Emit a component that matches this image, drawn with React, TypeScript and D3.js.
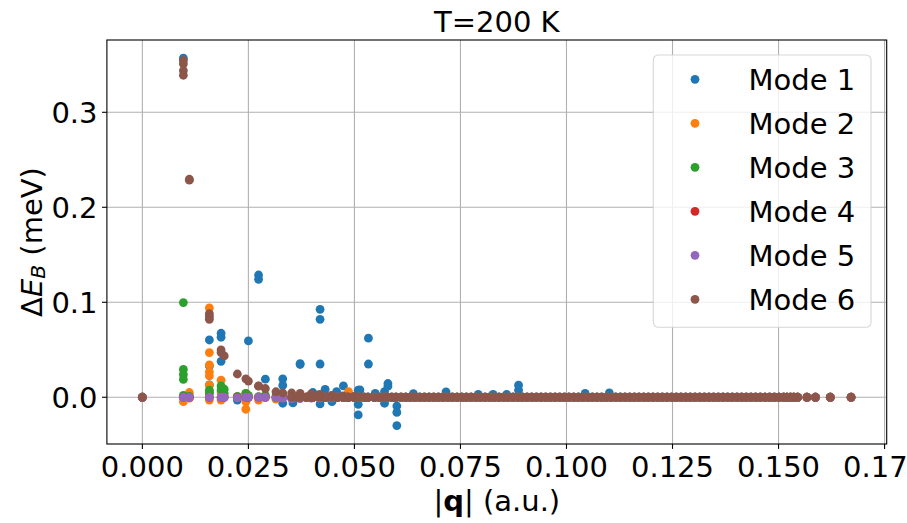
import React from "react";
import * as d3 from "d3";

// ---------- data ----------
const xLimits: [number, number] = [-0.00836, 0.1755];
const yLimits: [number, number] = [-0.0492, 0.3761];
const xTicks = [0, 0.025, 0.05, 0.075, 0.1, 0.125, 0.15, 0.175];
const yTicks = [0, 0.1, 0.2, 0.3];
const modeNames = ["Mode 1", "Mode 2", "Mode 3", "Mode 4", "Mode 5", "Mode 6"];
const modeColors = ["#1f77b4", "#ff7f0e", "#2ca02c", "#d62728", "#9467bd", "#8c564b"];

// |q| values of the dense near-zero band (all modes sit at ~0 there)
const bandQ = [
  0.0352, 0.0366, 0.0372, 0.0387, 0.0398, 0.0402, 0.0418, 0.0429, 0.0432, 0.0446,
  0.0457, 0.046, 0.0473, 0.0483, 0.0486, 0.0499, 0.0508, 0.0511, 0.0523, 0.0532,
  0.0547, 0.0558, 0.0569, 0.0577, 0.0588, 0.0598, 0.061, 0.0621, 0.0632, 0.0643,
  0.0654, 0.0665, 0.0676, 0.0687, 0.0698, 0.0709, 0.072, 0.0731, 0.0742, 0.0753,
  0.0764, 0.0775, 0.0786, 0.0797, 0.0808, 0.0819, 0.083, 0.0841, 0.0852, 0.0863,
  0.0874, 0.0885, 0.0896, 0.0907, 0.0918, 0.0929, 0.094, 0.0951, 0.0962, 0.0973,
  0.0984, 0.0995, 0.1006, 0.1017, 0.1028, 0.1039, 0.105, 0.1061, 0.1072, 0.1083,
  0.1094, 0.1105, 0.1116, 0.1127, 0.1138, 0.1149, 0.116, 0.1171, 0.1182, 0.1193,
  0.1204, 0.1215, 0.1226, 0.1237, 0.1248, 0.1259, 0.127, 0.1281, 0.1292, 0.1303,
  0.1314, 0.1325, 0.1336, 0.1347, 0.1358, 0.1369, 0.138, 0.1391, 0.1402, 0.1413,
  0.1424, 0.1435, 0.1446, 0.1457, 0.1468, 0.1479, 0.149, 0.1501, 0.1512, 0.152,
  0.1528, 0.1536, 0.1545, 0.1567, 0.1587, 0.1622, 0.1671,
];
const bandE = 0;

const mode1: [number, number][] = [
  [0, 0], [0.00967, 0.357], [0.00967, 0.0], [0.01108, 0.0],
  [0.0158, 0.0603], [0.0158, 0.033], [0.0158, 0.013], [0.0158, 0.005],
  [0.01856, 0.0674], [0.01856, 0.0632], [0.01856, 0.0378],
  [0.0224, -0.003], [0.025, 0.0593], [0.0274, 0.1287], [0.0274, 0.1242],
  [0.029, 0.019], [0.0331, 0.0194], [0.0331, 0.0125], [0.0331, -0.0063], [0.0355, -0.006],
  [0.0372, 0.0355], [0.0372, 0.0345], [0.0402, 0.005],
  [0.0419, 0.0926], [0.0419, 0.0821], [0.0419, 0.035], [0.0419, -0.007],
  [0.0431, 0.0084], [0.0447, -0.0046], [0.0458, 0.006], [0.0474, 0.0119],
  [0.0509, 0.0074], [0.0509, -0.0074], [0.0509, -0.0186], [0.0513, 0.0077],
  [0.0533, 0.0622], [0.0533, 0.035], [0.0549, 0.004],
  [0.0571, 0.006], [0.0571, -0.0063], [0.0579, 0.0145], [0.0579, 0.0117],
  [0.06, -0.0092], [0.06, -0.016], [0.06, -0.0298],
  [0.0639, 0.0039], [0.0716, 0.0056], [0.0792, 0.003], [0.0827, 0.003], [0.0859, 0.003],
  [0.0887, 0.0127], [0.0887, 0.0074], [0.1044, 0.004], [0.1101, 0.0046],
];

const mode2: [number, number][] = [
  [0, 0], [0.00967, -0.0046], [0.00967, 0.0005], [0.01108, 0.005], [0.01108, -0.001],
  [0.0158, 0.094], [0.0158, 0.047], [0.0158, 0.034], [0.0158, 0.0267], [0.0158, 0.0224],
  [0.0158, 0.0127], [0.0158, 0.006], [0.0158, -0.003],
  [0.01856, 0.018], [0.01856, 0.0055], [0.01856, -0.003], [0.0193, 0.001],
  [0.0224, 0.0], [0.0244, -0.0126], [0.0244, -0.0046], [0.0244, 0.004], [0.025, 0.0],
  [0.0274, 0.0], [0.0274, -0.003], [0.029, 0.0], [0.0315, -0.002], [0.0331, 0.002],
  [0.0486, 0.006],
];

const mode3: [number, number][] = [
  [0, 0], [0.00967, 0.0997], [0.00967, 0.0294], [0.00967, 0.024], [0.00967, 0.0188],
  [0.00967, 0.002], [0.01108, 0.001], [0.0158, 0.004], [0.0158, 0.0075],
  [0.01856, 0.0119], [0.01856, 0.0077], [0.0193, 0.0085], [0.0193, 0.004],
  [0.0224, 0.001], [0.0244, 0.004], [0.025, 0.002], [0.0274, 0.0007], [0.029, 0.002],
  [0.0315, 0.001],
];

const mode4: [number, number][] = [
  [0, 0], [0.00967, 0.0], [0.01108, 0.0], [0.0158, 0.0], [0.01856, 0.0], [0.0193, 0.0],
  [0.0224, 0.0], [0.0244, 0.0], [0.025, 0.0], [0.0274, 0.0], [0.029, 0.0], [0.0315, 0.0],
  [0.0331, 0.0],
];

const mode5: [number, number][] = [
  [0, 0], [0.00967, 0.0], [0.01108, 0.0], [0.0158, 0.0], [0.01856, 0.0], [0.0193, 0.0],
  [0.0224, -0.0005], [0.0244, 0.0], [0.025, 0.0], [0.0274, 0.0], [0.029, 0.0],
  [0.0315, -0.0005], [0.0331, -0.001], [0.0352, -0.0015], [0.0372, -0.0015],
  [0.0398, -0.001], [0.0418, -0.001], [0.0446, -0.001],
];

const mode6: [number, number][] = [
  [0, 0], [0.00967, 0.3545], [0.00967, 0.351], [0.00967, 0.344], [0.00967, 0.339],
  [0.01108, 0.2295], [0.01108, 0.2285],
  [0.0158, 0.088], [0.0158, 0.085], [0.0158, 0.082],
  [0.01856, 0.0498], [0.01856, 0.047], [0.0193, 0.0435],
  [0.0224, 0.0245], [0.0244, 0.0194], [0.025, 0.017], [0.0274, 0.012], [0.0274, 0.0117],
  [0.029, 0.0092], [0.0315, 0.0058], [0.0331, 0.0045],
  [0.0352, 0.0045], [0.0372, 0.004], [0.0398, 0.0035], [0.0418, 0.003], [0.0446, 0.002],
  [0.0473, 0.0015], [0.0499, 0.001],
];

const modes = [mode1, mode2, mode3, mode4, mode5, mode6];

// ---------- layout ----------
const W = 907;
const H = 523;
const plot = { left: 106.9, right: 886.7, top: 40, bottom: 444 };
const FONT = "DejaVu Sans";
const FS = 29;

export default function App() {
  const x = d3.scaleLinear().domain(xLimits).range([plot.left, plot.right]);
  const y = d3.scaleLinear().domain(yLimits).range([plot.bottom, plot.top]);
  const fmtX = d3.format(".3f");
  const fmtY = d3.format(".1f");
  const r = 4.4;

  const series = modes.map((pts) =>
    pts.concat(bandQ.map((q) => [q, bandE] as [number, number]))
  );

  const legend = { x: 653.3, y: 55, w: 217.7, h: 272.3 };
  const rowY = (i: number) => 79.3 + i * 44;

  return (
    <svg
      width={W}
      height={H}
      style={{ position: "absolute", left: 0, top: 0, background: "#fff" }}
      fontFamily={FONT}
    >
      <defs>
        <clipPath id="plotclip">
          <rect x={plot.left} y={plot.top} width={plot.right - plot.left} height={plot.bottom - plot.top} />
        </clipPath>
      </defs>
      <rect x={0} y={0} width={W} height={H} fill="#fff" />

      {/* grid */}
      {xTicks.map((t) => (
        <line key={"gx" + t} x1={x(t)} x2={x(t)} y1={plot.top} y2={plot.bottom} stroke="#b0b0b0" strokeWidth={1.1} />
      ))}
      {yTicks.map((t) => (
        <line key={"gy" + t} x1={plot.left} x2={plot.right} y1={y(t)} y2={y(t)} stroke="#b0b0b0" strokeWidth={1.1} />
      ))}

      {/* points */}
      <g clipPath="url(#plotclip)">
        {series.map((pts, mi) => (
          <g key={"s" + mi} fill={modeColors[mi]}>
            {pts.map((p, i) => (
              <circle key={i} cx={x(p[0])} cy={y(p[1])} r={r} />
            ))}
          </g>
        ))}
      </g>

      {/* frame */}
      <rect
        x={plot.left}
        y={plot.top}
        width={plot.right - plot.left}
        height={plot.bottom - plot.top}
        fill="none"
        stroke="#000"
        strokeWidth={1.1}
      />

      {/* x ticks */}
      {xTicks.map((t) => (
        <g key={"tx" + t}>
          <line x1={x(t)} x2={x(t)} y1={plot.bottom} y2={plot.bottom + 4.9} stroke="#000" strokeWidth={1.1} />
          <text x={x(t)} y={476.5} fontSize={FS} textAnchor="middle" fill="#000">
            {fmtX(t)}
          </text>
        </g>
      ))}
      {/* y ticks */}
      {yTicks.map((t) => (
        <g key={"ty" + t}>
          <line x1={plot.left - 4.9} x2={plot.left} y1={y(t)} y2={y(t)} stroke="#000" strokeWidth={1.1} />
          <text x={97.5} y={y(t) + 10.5} fontSize={FS} textAnchor="end" fill="#000">
            {fmtY(t)}
          </text>
        </g>
      ))}

      {/* title */}
      <text x={(plot.left + plot.right) / 2} y={31.5} fontSize={FS} textAnchor="middle" fill="#000">
        T=200 K
      </text>

      {/* x label */}
      <text x={(plot.left + plot.right) / 2} y={511} fontSize={FS} textAnchor="middle" fill="#000">
        <tspan>|</tspan>
        <tspan fontWeight="bold">q</tspan>
        <tspan>| (a.u.)</tspan>
      </text>

      {/* y label */}
      <text
        transform={`translate(41.5, ${(plot.top + plot.bottom) / 2}) rotate(-90)`}
        fontSize={FS}
        textAnchor="middle"
        fill="#000"
      >
        <tspan>Δ</tspan>
        <tspan fontStyle="italic">E</tspan>
        <tspan fontStyle="italic" fontSize={FS * 0.7} dy={3.5}>B</tspan>
        <tspan dy={-3.5}> (meV)</tspan>
      </text>

      {/* legend */}
      <rect
        x={legend.x}
        y={legend.y}
        width={legend.w}
        height={legend.h}
        rx={5}
        ry={5}
        fill="#fff"
        fillOpacity={0.8}
        stroke="#cccccc"
        strokeOpacity={0.8}
        strokeWidth={1.1}
      />
      {modeNames.map((name, i) => (
        <g key={name}>
          <circle cx={695} cy={rowY(i)} r={r} fill={modeColors[i]} />
          <text x={748.5} y={rowY(i) + 10.5} fontSize={FS} fill="#000">
            {name}
          </text>
        </g>
      ))}
    </svg>
  );
}
